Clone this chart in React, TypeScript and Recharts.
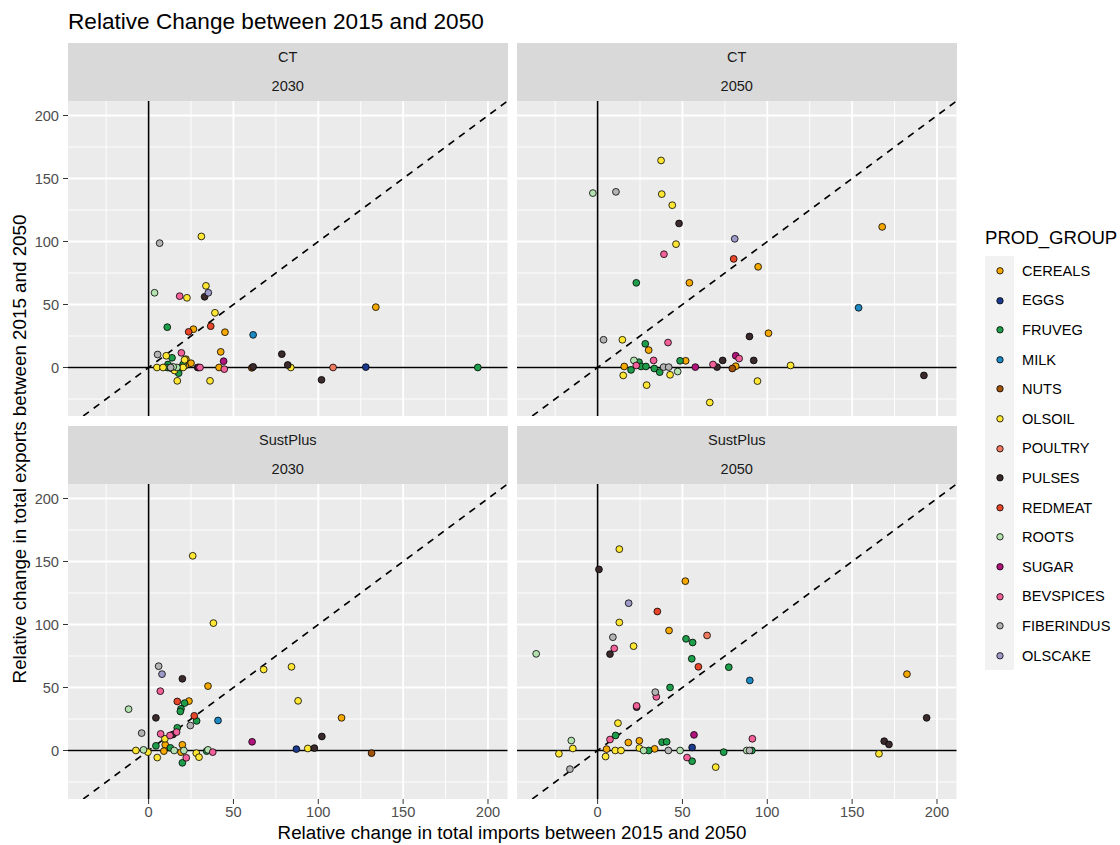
import React from 'react'
import { ScatterChart, Scatter, XAxis, YAxis, CartesianGrid, ReferenceLine } from 'recharts'

const groups = [
  'CEREALS', 'EGGS', 'FRUVEG', 'MILK', 'NUTS', 'OLSOIL', 'POULTRY',
  'PULSES', 'REDMEAT', 'ROOTS', 'SUGAR', 'BEVSPICES', 'FIBERINDUS', 'OLSCAKE',
]
const groupColors = [
  '#F5A800', '#1B3A8E', '#1E9E4A', '#1E8AC4', '#A3520B', '#FFE733', '#F07A60',
  '#3B2A2C', '#E8462B', '#B3E2B0', '#B2147E', '#F2619A', '#B3B3B3', '#9E9AC8',
]

const xTicks = [0, 50, 100, 150, 200]
const yTicks = [0, 50, 100, 150, 200]
const minorX = [-25, 25, 75, 125, 175]
const minorY = [-25, 25, 75, 125, 175]
const xDomain: [number, number] = [-47.5, 211.5]
const yDomain: [number, number] = [-38.5, 211.5]

type Pt = [string, number, number]

// CT / 2030
const ct2030: Pt[] = [
  ['CEREALS', 133.9, 47.9], ['CEREALS', 26.4, 30.4], ['CEREALS', 45, 28], ['CEREALS', 42.5, 12.4],
  ['CEREALS', 22, 6.6], ['CEREALS', 25, 3.4], ['CEREALS', 41.5, 0], ['CEREALS', 21.5, 1.5],
  ['EGGS', 128, 0.3],
  ['FRUVEG', 11, 32], ['FRUVEG', 13.8, 7.7], ['FRUVEG', 20.3, 2.4], ['FRUVEG', 11.4, 2.4],
  ['FRUVEG', 11, 0], ['FRUVEG', 17.7, -4.5], ['FRUVEG', 194, 0], ['FRUVEG', 19, 0], ['FRUVEG', 13, -0.5],
  ['MILK', 61.6, 25.9],
  ['NUTS', 60.8, -0.3],
  ['OLSOIL', 31.1, 104], ['OLSOIL', 22.6, 55.3], ['OLSOIL', 33.8, 64.8], ['OLSOIL', 39.1, 43.4],
  ['OLSOIL', 10.4, 9.3], ['OLSOIL', 4.9, 0], ['OLSOIL', 8.5, 0], ['OLSOIL', 20.3, 0], ['OLSOIL', 83.8, 0],
  ['OLSOIL', 16.9, -10.6], ['OLSOIL', 36.2, -10.6], ['OLSOIL', 15.3, -2.4], ['OLSOIL', 21.2, 6.1],
  ['POULTRY', 108.7, 0],
  ['PULSES', 33, 56.1], ['PULSES', 78.5, 10.6], ['PULSES', 28.9, 0], ['PULSES', 61.6, 0.5],
  ['PULSES', 82, 2], ['PULSES', 101.9, -9.8],
  ['REDMEAT', 23.6, 28.3], ['REDMEAT', 36.6, 32.8],
  ['ROOTS', 3.5, 59.3], ['ROOTS', 16.7, 0], ['ROOTS', 14.5, 0.5],
  ['SUGAR', 44.2, 5], ['SUGAR', 29.5, 0],
  ['BEVSPICES', 18.3, 56.6], ['BEVSPICES', 19.3, 11.6], ['BEVSPICES', 44.6, -1.3], ['BEVSPICES', 30.3, 0],
  ['FIBERINDUS', 6.5, 98.7], ['FIBERINDUS', 5.3, 10.3], ['FIBERINDUS', 13, 0],
  ['OLSCAKE', 35.2, 59.3],
]

// CT / 2050
const ct2050: Pt[] = [
  ['CEREALS', 167.7, 111.6], ['CEREALS', 94.6, 79.9], ['CEREALS', 54.1, 67.2], ['CEREALS', 30.1, 13.8],
  ['CEREALS', 100.7, 27.2], ['CEREALS', 51.9, 5.3], ['CEREALS', 81.4, 1], ['CEREALS', 15.7, 0.8],
  ['FRUVEG', 22.8, 67.2], ['FRUVEG', 28.1, 18.8], ['FRUVEG', 48.6, 5.3], ['FRUVEG', 24.4, 4.2],
  ['FRUVEG', 19.7, -1.9], ['FRUVEG', 25.6, 0.8], ['FRUVEG', 28.5, 0.8], ['FRUVEG', 33.4, -0.8], ['FRUVEG', 36.6, -3.7],
  ['MILK', 153.8, 47.4],
  ['NUTS', 79.4, -0.8],
  ['OLSOIL', 37.4, 164.3], ['OLSOIL', 37.8, 137.6], ['OLSOIL', 44, 128.8], ['OLSOIL', 46.2, 97.9],
  ['OLSOIL', 14.6, 22], ['OLSOIL', 113.7, 1.6], ['OLSOIL', 15.1, -6.3], ['OLSOIL', 42.7, -5.8],
  ['OLSOIL', 28.9, -14], ['OLSOIL', 94.2, -10.8], ['OLSOIL', 66.1, -27.8],
  ['PULSES', 48, 114.3], ['PULSES', 89.5, 24.6], ['PULSES', 73.7, 5.6], ['PULSES', 92, 5.6],
  ['PULSES', 70.4, 0.3], ['PULSES', 192.3, -6.3],
  ['REDMEAT', 80.2, 86.2],
  ['ROOTS', -2.8, 138.4], ['ROOTS', 21.4, 5.6], ['ROOTS', 47.2, -3.2],
  ['SUGAR', 81.4, 9.3], ['SUGAR', 57.6, 0.3],
  ['BEVSPICES', 39.1, 89.9], ['BEVSPICES', 41.5, 19.8], ['BEVSPICES', 83.4, 7.1], ['BEVSPICES', 33, 5.6],
  ['BEVSPICES', 68, 2.4], ['BEVSPICES', 22.8, 1.6],
  ['FIBERINDUS', 10.8, 139.4], ['FIBERINDUS', 3.5, 22], ['FIBERINDUS', 38.9, 0.3], ['FIBERINDUS', 41.9, 0.3],
  ['OLSCAKE', 80.8, 102.1],
]

// SustPlus / 2030
const sp2030: Pt[] = [
  ['CEREALS', 35, 51.1], ['CEREALS', 23.8, 39.2], ['CEREALS', 113.7, 25.9], ['CEREALS', 9.8, 4.5],
  ['CEREALS', 19.9, 4.5], ['CEREALS', 9, -0.5], ['CEREALS', 19.1, -1.3],
  ['EGGS', 87.1, 1.1],
  ['FRUVEG', 21.2, 37.6], ['FRUVEG', 19.1, 33.1], ['FRUVEG', 18.7, 31], ['FRUVEG', 28.3, 23.5],
  ['FRUVEG', 16.9, 18], ['FRUVEG', 4.3, 3.7], ['FRUVEG', 12.8, 2.1], ['FRUVEG', 34.2, -0.5], ['FRUVEG', 19.9, -9.8],
  ['MILK', 40.9, 23.8],
  ['NUTS', 131.4, -2.1],
  ['OLSOIL', 26, 154.5], ['OLSOIL', 38.2, 101.1], ['OLSOIL', 67.8, 64.3], ['OLSOIL', 84.2, 66.4],
  ['OLSOIL', 88.1, 39.4], ['OLSOIL', 9.6, 9.3], ['OLSOIL', 93.8, 1.6], ['OLSOIL', -7.5, 0],
  ['OLSOIL', -0.4, -1.3], ['OLSOIL', 28.1, -2.1], ['OLSOIL', 29.7, -5.3], ['OLSOIL', 5.1, -5.6],
  ['PULSES', 19.9, 56.9], ['PULSES', 4.3, 25.9], ['PULSES', 14.4, 12.7], ['PULSES', 102.1, 11.1], ['PULSES', 97.7, 1.9],
  ['REDMEAT', 16.9, 38.9], ['REDMEAT', 26.9, 27.5],
  ['ROOTS', -11.8, 32.8], ['ROOTS', -3, 0.5], ['ROOTS', 15.1, 0], ['ROOTS', 20.8, 0], ['ROOTS', 35, 0.5],
  ['SUGAR', 61, 6.9],
  ['BEVSPICES', 6.9, 47.1], ['BEVSPICES', 16.5, 14.6], ['BEVSPICES', 12.6, 11.9], ['BEVSPICES', 7.1, 13.2],
  ['BEVSPICES', 37.8, -1.3], ['BEVSPICES', 22.2, -5.8],
  ['FIBERINDUS', 5.9, 66.9], ['FIBERINDUS', 24.6, 19.8], ['FIBERINDUS', -4.1, 13.8],
  ['OLSCAKE', 7.9, 60.6],
]

// SustPlus / 2050
const sp2050: Pt[] = [
  ['CEREALS', 51.7, 134.4], ['CEREALS', 42.1, 95.2], ['CEREALS', 182.3, 60.6], ['CEREALS', 18.1, 6.3],
  ['CEREALS', 24.6, 7.7], ['CEREALS', 5.3, 1.1], ['CEREALS', 33.6, 1.3],
  ['EGGS', 55.7, 2.4],
  ['FRUVEG', 52.1, 88.6], ['FRUVEG', 56, 85.7], ['FRUVEG', 55.5, 72.8], ['FRUVEG', 77.3, 66.1],
  ['FRUVEG', 42.7, 50], ['FRUVEG', 10.6, 11.9], ['FRUVEG', 38, 6.6], ['FRUVEG', 40.7, 6.9],
  ['FRUVEG', 30.1, 0], ['FRUVEG', 74.3, -1.3], ['FRUVEG', 90.9, 0], ['FRUVEG', 55.7, -8.5],
  ['MILK', 89.7, 55.6],
  ['OLSOIL', 12.8, 159.8], ['OLSOIL', 12.8, 101.6], ['OLSOIL', 21.2, 82.8], ['OLSOIL', 12, 21.7],
  ['OLSOIL', -14.6, 1.6], ['OLSOIL', -22.8, -2.6], ['OLSOIL', 165.8, -2.6], ['OLSOIL', 10.4, 0],
  ['OLSOIL', 13.8, 0], ['OLSOIL', 24.6, 1.9], ['OLSOIL', 4.7, -4.8], ['OLSOIL', 69.6, -13.2],
  ['POULTRY', 64.5, 91.3],
  ['PULSES', 0.8, 143.7], ['PULSES', 7.3, 76.5], ['PULSES', 193.9, 25.9], ['PULSES', 23, 34.4],
  ['PULSES', 168.9, 7.4], ['PULSES', 171.7, 4.8],
  ['REDMEAT', 35.2, 110.3], ['REDMEAT', 59.4, 66.4],
  ['ROOTS', -36.2, 76.7], ['ROOTS', -15.5, 7.9], ['ROOTS', 27.1, 0], ['ROOTS', 48.6, 0], ['ROOTS', 87.9, 0],
  ['SUGAR', 56.8, 12.4],
  ['BEVSPICES', 9.8, 81], ['BEVSPICES', 34.6, 42.6], ['BEVSPICES', 23, 35.4], ['BEVSPICES', 7.3, 8.7],
  ['BEVSPICES', 91.2, 9.3], ['BEVSPICES', 52.7, -5.6],
  ['FIBERINDUS', 9, 89.9], ['FIBERINDUS', 34, 46.3], ['FIBERINDUS', -16.3, -14.8],
  ['FIBERINDUS', 41.7, 0], ['FIBERINDUS', 89.5, 0],
  ['OLSCAKE', 18.3, 116.9],
]

const PW = 439.5
const PH = 315
const FONT = '"Liberation Sans", Arial, Helvetica, sans-serif'

const panels = [
  { scen: 'CT', year: '2030', data: ct2030, left: 68, top: 100.5, showX: false, showY: true },
  { scen: 'CT', year: '2050', data: ct2050, left: 517, top: 100.5, showX: false, showY: false },
  { scen: 'SustPlus', year: '2030', data: sp2030, left: 68, top: 483.5, showX: true, showY: true },
  { scen: 'SustPlus', year: '2050', data: sp2050, left: 517, top: 483.5, showX: true, showY: false },
]

const seriesFor = (data: Pt[], g: string) =>
  data.filter((d) => d[0] === g).map((d) => ({ x: d[1], y: d[2] }))

const makeDot = (color: string) => (p: any) => (
  <circle cx={p.cx} cy={p.cy} r={3.4} fill={color} stroke="#000" strokeWidth={0.8} />
)

function Panel({ data, showX, showY }: { data: Pt[]; showX: boolean; showY: boolean }) {
  const yw = showY ? 60 : 0
  const xh = showX ? 32 : 0
  return (
    <ScatterChart width={PW + yw} height={PH + xh} margin={{ top: 0, right: 0, bottom: 0, left: 0 }}>
      <CartesianGrid fill="#EBEBEB" horizontal={false} vertical={false} />
      <XAxis
        type="number" dataKey="x" domain={xDomain} ticks={xTicks} allowDataOverflow
        hide={!showX} height={xh} axisLine={false} tickSize={5} tickMargin={3}
        tickLine={{ stroke: '#333333' }} tick={{ fontSize: 14.6, fill: '#4D4D4D' }}
      />
      <YAxis
        type="number" dataKey="y" domain={yDomain} ticks={yTicks} allowDataOverflow
        hide={!showY} width={yw} axisLine={false} tickSize={5} tickMargin={4}
        tickLine={{ stroke: '#333333' }} tick={{ fontSize: 14.6, fill: '#4D4D4D' }}
      />
      {minorX.map((v) => <ReferenceLine key={'mx' + v} x={v} stroke="#FFFFFF" strokeWidth={0.9} />)}
      {minorY.map((v) => <ReferenceLine key={'my' + v} y={v} stroke="#FFFFFF" strokeWidth={0.9} />)}
      {xTicks.map((v) => <ReferenceLine key={'Mx' + v} x={v} stroke="#FFFFFF" strokeWidth={1.8} />)}
      {yTicks.map((v) => <ReferenceLine key={'My' + v} y={v} stroke="#FFFFFF" strokeWidth={1.8} />)}
      <ReferenceLine x={0} stroke="#000" strokeWidth={1.6} />
      <ReferenceLine y={0} stroke="#000" strokeWidth={1.6} />
      <ReferenceLine
        segment={[{ x: yDomain[0], y: yDomain[0] }, { x: yDomain[1], y: yDomain[1] }]}
        stroke="#000" strokeWidth={1.6} strokeDasharray="7 6" ifOverflow="hidden"
      />
      {groups.map((g, i) => (
        <Scatter
          key={g} name={g} data={seriesFor(data, g)} fill={groupColors[i]}
          shape={makeDot(groupColors[i])} isAnimationActive={false}
        />
      ))}
    </ScatterChart>
  )
}

export default function App() {
  return (
    <div style={{ position: 'absolute', left: 0, top: 0, width: 1120, height: 845, background: '#fff', fontFamily: FONT, color: '#000' }}>
      <div style={{ position: 'absolute', left: 68, top: 8, fontSize: 22.6, lineHeight: '27px', whiteSpace: 'nowrap' }}>
        Relative Change between 2015 and 2050
      </div>

      {panels.map((p) => (
        <React.Fragment key={p.scen + p.year}>
          <div style={{ position: 'absolute', left: p.left, top: p.top - 58, width: PW, height: 58, background: '#D9D9D9', color: '#1A1A1A', fontSize: 14.6, textAlign: 'center' }}>
            <div style={{ height: 29, lineHeight: '29px' }}>{p.scen}</div>
            <div style={{ height: 29, lineHeight: '29px' }}>{p.year}</div>
          </div>
          <div style={{ position: 'absolute', left: p.left - (p.showY ? 60 : 0), top: p.top }}>
            <Panel data={p.data} showX={p.showX} showY={p.showY} />
          </div>
        </React.Fragment>
      ))}

      <div style={{ position: 'absolute', left: 512, top: 833, transform: 'translate(-50%, -50%)', fontSize: 18.8, whiteSpace: 'nowrap' }}>
        Relative change in total imports between 2015 and 2050
      </div>
      <div style={{ position: 'absolute', left: 20, top: 449, transform: 'translate(-50%, -50%) rotate(-90deg)', fontSize: 18.8, whiteSpace: 'nowrap' }}>
        Relative change in total exports between 2015 and 2050
      </div>

      <div style={{ position: 'absolute', left: 985, top: 226, fontSize: 18.6, lineHeight: '24px', whiteSpace: 'nowrap' }}>
        PROD_GROUP
      </div>
      <div style={{ position: 'absolute', left: 985, top: 256, width: 29, height: 29.6 * groups.length, background: '#F2F2F2' }} />
      {groups.map((g, i) => (
        <div key={g} style={{ position: 'absolute', left: 985, top: 256 + i * 29.6, height: 29.6, display: 'flex', alignItems: 'center' }}>
          <svg width={29} height={29.6} style={{ display: 'block' }}>
            <circle cx={15} cy={14.8} r={3.2} fill={groupColors[i]} stroke="#000" strokeWidth={0.8} />
          </svg>
          <span style={{ marginLeft: 8, fontSize: 14.6, color: '#000', whiteSpace: 'nowrap' }}>{g}</span>
        </div>
      ))}
    </div>
  )
}
